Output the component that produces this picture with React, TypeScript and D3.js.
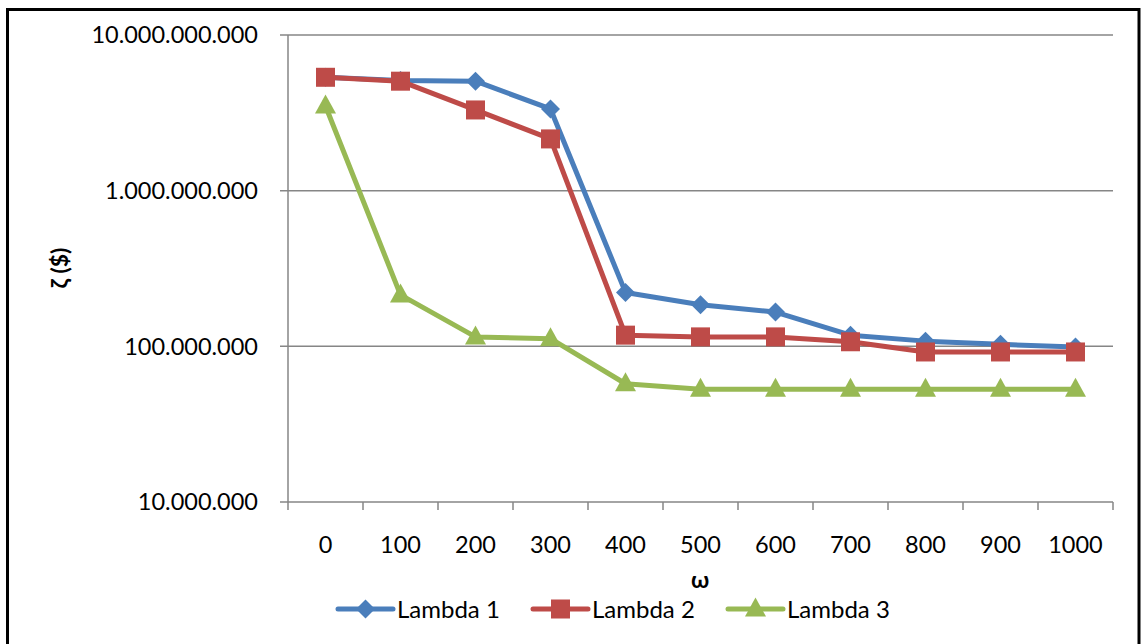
import React from "react";
import * as d3 from "d3";

const categories = ["0", "100", "200", "300", "400", "500", "600", "700", "800", "900", "1000"];
const lambda1 = [5.35e9, 5.1e9, 5.05e9, 3.35e9, 2.22e8, 1.85e8, 1.66e8, 1.18e8, 1.08e8, 1.03e8, 9.9e7];
const lambda2 = [5.35e9, 5.05e9, 3.3e9, 2.15e9, 1.18e8, 1.15e8, 1.15e8, 1.07e8, 9.2e7, 9.2e7, 9.2e7];
const lambda3 = [3.5e9, 2.14e8, 1.15e8, 1.12e8, 5.75e7, 5.3e7, 5.3e7, 5.3e7, 5.3e7, 5.3e7, 5.3e7];
const yTicks = [1e7, 1e8, 1e9, 1e10];
const seriesNames = ["Lambda 1", "Lambda 2", "Lambda 3"];

const W = 1141;
const H = 644;
const FONT = "Lato, 'Open Sans', sans-serif";

const series = [
  { name: seriesNames[0], values: lambda1, color: "#4A7EBB", marker: "diamond" },
  { name: seriesNames[1], values: lambda2, color: "#BE4B48", marker: "square" },
  { name: seriesNames[2], values: lambda3, color: "#98B954", marker: "triangle" },
];

const locale = d3.formatLocale({ decimal: ",", thousands: ".", grouping: [3], currency: ["", "$"] });
const fmt = locale.format(",");

function Marker({ type, x, y, color }: { type: string; x: number; y: number; color: string }) {
  if (type === "diamond") {
    const r = 9.5;
    return <path d={`M${x},${y - r}L${x + r},${y}L${x},${y + r}L${x - r},${y}Z`} fill={color} />;
  }
  if (type === "square") {
    const s = 19;
    return <rect x={x - s / 2} y={y - s / 2} width={s} height={s} fill={color} />;
  }
  const w = 21;
  const h = 19;
  return <path d={`M${x},${y - h * 0.6}L${x + w / 2},${y + h * 0.4}L${x - w / 2},${y + h * 0.4}Z`} fill={color} />;
}

export default function App() {
  const x = d3.scaleBand().domain(categories).range([288, 1113]).padding(0);
  const y = d3.scaleLog().domain([1e7, 1e10]).range([502, 35]);
  const cx = (c: string) => (x(c) as number) + x.bandwidth() / 2;
  const line = d3
    .line<number>()
    .x((_, i) => cx(categories[i]))
    .y((v) => y(v));

  const legendItems = [
    { lx: 338, tx: 397 },
    { lx: 533, tx: 592 },
    { lx: 728, tx: 787 },
  ];
  const legendY = 609;

  return (
    <svg width={W} height={H} style={{ position: "absolute", left: 0, top: 0, display: "block" }} fontFamily={FONT}>
      <rect x={0} y={0} width={W} height={H} fill="#fff" />
      <rect x={7.5} y={9.5} width={1131.5} height={H} fill="none" stroke="#000" strokeWidth={3} />

      {/* gridlines */}
      {yTicks.map((t) => (
        <line key={"g" + t} x1={280} x2={1113} y1={y(t)} y2={y(t)} stroke="#868686" strokeWidth={1.5} />
      ))}
      {/* y axis */}
      <line x1={288} x2={288} y1={y(1e10)} y2={y(1e7)} stroke="#868686" strokeWidth={1.5} />
      {/* x ticks */}
      {[...categories.map((c) => x(c) as number), 1113].map((px, i) => (
        <line key={"xt" + i} x1={px} x2={px} y1={502} y2={510} stroke="#868686" strokeWidth={1.5} />
      ))}

      {/* y tick labels */}
      {yTicks.map((t) => (
        <text key={"yl" + t} x={258} y={y(t)} dy="0.36em" textAnchor="end" fontSize={23.5} fill="#000">
          {fmt(t)}
        </text>
      ))}
      {/* x tick labels */}
      {categories.map((c) => (
        <text key={"xl" + c} x={cx(c)} y={553} textAnchor="middle" fontSize={23.5} fill="#000">
          {c}
        </text>
      ))}

      {/* axis titles */}
      <text x={700} y={588} textAnchor="middle" fontSize={23} fontWeight="bold" fill="#000">
        ω
      </text>
      <text
        transform={`translate(68,268) rotate(-90)`}
        textAnchor="middle"
        fontSize={23}
        fontWeight="bold"
        fill="#000"
      >
        ζ ($)
      </text>

      {/* series */}
      {series.map((s) => (
        <g key={s.name}>
          <path d={line(s.values) as string} fill="none" stroke={s.color} strokeWidth={5} strokeLinejoin="round" />
          {s.values.map((v, i) => (
            <Marker key={i} type={s.marker} x={cx(categories[i])} y={y(v)} color={s.color} />
          ))}
        </g>
      ))}

      {/* legend */}
      {series.map((s, i) => (
        <g key={"lg" + s.name}>
          <line
            x1={legendItems[i].lx}
            x2={legendItems[i].lx + 55}
            y1={legendY}
            y2={legendY}
            stroke={s.color}
            strokeWidth={5}
            strokeLinecap="round"
          />
          <Marker type={s.marker} x={legendItems[i].lx + 27.5} y={legendY} color={s.color} />
          <text x={legendItems[i].tx} y={legendY} dy="0.36em" fontSize={24} fill="#000">
            {s.name}
          </text>
        </g>
      ))}
    </svg>
  );
}
